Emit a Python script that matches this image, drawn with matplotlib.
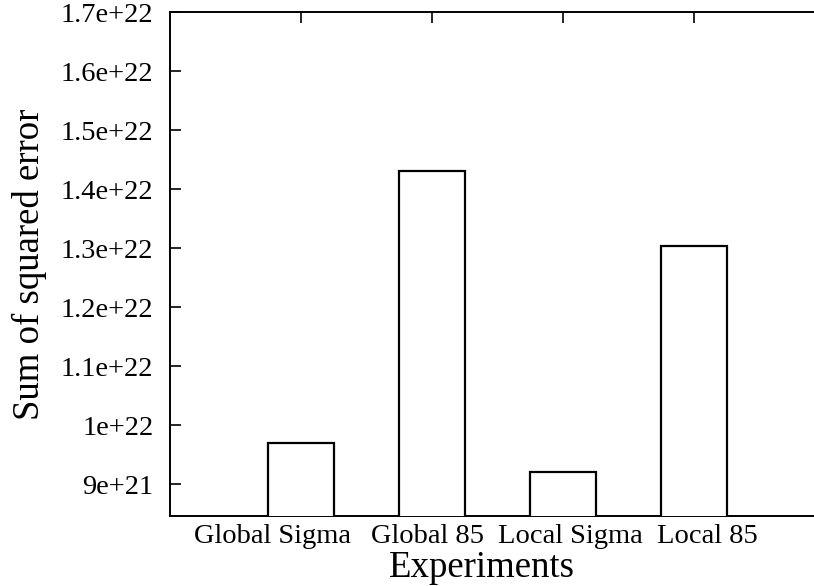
#!/usr/bin/env python3
"""Sum of squared error per experiment (gnuplot-style bar chart)."""
import matplotlib
matplotlib.use("Agg")
import matplotlib.pyplot as plt
from matplotlib.ticker import FixedLocator
from matplotlib.transforms import ScaledTranslation

# ─── Data ────────────────────────────────────────────────────────────────
EXPERIMENTS = ["Global Sigma", "Global 85", "Local Sigma", "Local 85"]
SSE         = [9.69e21, 1.430e22, 9.20e21, 1.304e22]
Y_TICKS     = [9e21, 1e22, 1.1e22, 1.2e22, 1.3e22, 1.4e22, 1.5e22, 1.6e22, 1.7e22]
Y_LABELS    = ["9e+21", "1e+22", "1.1e+22", "1.2e+22", "1.3e+22",
               "1.4e+22", "1.5e+22", "1.6e+22", "1.7e+22"]
# gnuplot placed the category labels a bit off their ticks (pixels)
LABEL_SHIFT = [-29, -5, 7, 13]


def main() -> None:
    plt.rcParams["font.family"] = ["Liberation Serif", "DejaVu Serif"]

    W, H = 814, 586
    fig = plt.figure(figsize=(W / 100, H / 100), dpi=100)
    px = lambda dx, dy: ScaledTranslation(dx / 100, dy / 100, fig.dpi_scale_trans)
    # axes box in pixels: left 170, right 825 (beyond the image), top 12, bottom 516
    ax = fig.add_axes([170 / W, 1 - 516 / H, (825 - 170) / W, (516 - 12) / H])

    x = list(range(1, len(EXPERIMENTS) + 1))
    ax.bar(x, SSE, width=0.5, bottom=0, color="white",
           edgecolor="black", linewidth=1.6, zorder=3)

    ax.set_xlim(0, 5)
    ax.set_ylim(8.46e21, 1.7e22)

    # category labels drawn as text so they can sit off-centre like the original
    ax.set_xticks(x)
    ax.set_xticklabels([])
    base = ax.get_xaxis_transform()
    for xi, name, dx in zip(x, EXPERIMENTS, LABEL_SHIFT):
        ax.text(xi, 0, name, transform=base + px(dx, -27),
                ha="center", va="baseline", fontsize=20.5)

    ax.yaxis.set_major_locator(FixedLocator(Y_TICKS))
    ax.set_yticklabels(Y_LABELS, fontsize=20.5)

    ax.tick_params(axis="x", direction="in", top=True, length=8, width=1.2)
    ax.tick_params(axis="y", direction="in", right=False, length=8, width=1.2, pad=12)

    for side in ("left", "bottom", "top", "right"):
        ax.spines[side].set_linewidth(1.4)

    ax.text(0.5, 0, "Experiments", transform=ax.transAxes + px(-16, -61),
            ha="center", va="baseline", fontsize=26.5)
    ax.set_ylabel("Sum of squared error", fontsize=26.5, labelpad=10)

    fig.savefig("out.png", dpi=100)


if __name__ == "__main__":
    main()
